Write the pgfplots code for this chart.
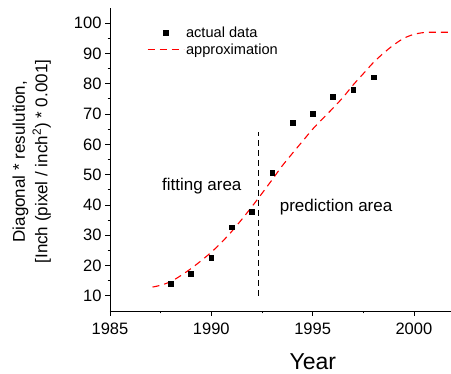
\documentclass[border=0pt]{standalone}
\usepackage{pgfplots}
\pgfplotsset{compat=1.18}
\usepackage{fontspec}
\setmainfont{Liberation Sans}
\pgfplotsset{
  legA/.style={legend image code/.code={\draw[mark repeat=2,mark phase=2,##1] plot coordinates {(0pt,0pt) (18pt,0pt) (36pt,0pt)};}},
  legB/.style={legend image code/.code={\draw[##1] (0pt,0pt) -- (36pt,0pt);}},
}
\begin{document}
\begin{tikzpicture}
\begin{axis}[
  at={(0,0)}, anchor=south west,
  scale only axis, width=341pt, height=303pt,
  xmin=1985, xmax=2001.83, ymin=5, ymax=105,
  axis lines*=left,
  axis line style={line width=0.8pt, black},
  tick align=outside,
  major tick length=5pt, minor tick length=2.5pt,
  every tick/.style={black, line width=0.8pt},
  xtick={1985,1990,1995,2000}, minor x tick num=1,
  ytick={10,20,...,100}, minor y tick num=1,
  /pgf/number format/1000 sep={},
  /pgf/number format/assume math mode=true,
  ticklabel style={font=\fontsize{16.5}{18}\selectfont},
  xticklabel style={yshift=-3pt},
  xlabel={Year},
  xlabel style={font=\fontsize{23}{26}\selectfont, at={(axis description cs:0.595,0)}, anchor=base, yshift=-59pt},
  ylabel={Diagonal * resulution,\\{}[Inch (pixel / inch\textsuperscript{2}) * 0.001]},
  ylabel style={font=\fontsize{17}{22.5}\selectfont, align=center, inner sep=0pt, at={(axis description cs:0,0.493)}, anchor=south, yshift=59pt},
  legend style={draw=none, fill=none, font=\fontsize{14.6}{17}\selectfont, at={(axis description cs:0.099,0.952)}, anchor=north west, row sep=1pt},
  legend cell align=left,
  clip=true,
]
\addlegendimage{only marks, mark=square*, mark size=2.35pt, black, legA}
\addlegendentry{actual data}
\addlegendimage{red, line width=1.1pt, dash pattern=on 7pt off 5pt, legB}
\addlegendentry{approximation}
\addplot[black, line width=1.1pt, dash pattern=on 6pt off 4pt, forget plot]
  coordinates {(1992.35,10) (1992.35,64)};
\addplot[color=red, line width=1.1pt, dash pattern=on 7pt off 5pt, smooth, no marks, forget plot]
  coordinates {
  (1987.1,12.9) (1987.5,13.5) (1988,14.7) (1988.5,16.7) (1989,19.0)
  (1989.5,21.6) (1990,24.4) (1990.5,27.6) (1991,31.2) (1991.5,35.2)
  (1992,39.4) (1992.5,43.8) (1993,48.3) (1993.5,52.9) (1994,57.0)
  (1994.5,61.0) (1995,65.0) (1995.5,68.5) (1996,71.9) (1996.5,75.5)
  (1997,79.6) (1997.5,83.3) (1998,87.0) (1998.5,90.1) (1999,92.8)
  (1999.5,95.0) (2000,96.3) (2000.5,96.9) (2001,97.0) (2002,97.0)
  };
\addplot[only marks, mark=square*, mark size=2.35pt, black, forget plot]
  coordinates {
  (1988,14.1) (1989,17.4) (1990,22.7) (1991,32.7) (1992,37.8)
  (1993,50.7) (1994,67.1) (1995,70.0) (1996,75.8) (1997,78.1) (1998,82.2)
  };
\node[font=\fontsize{17}{20}\selectfont, anchor=base] at (axis cs:1989.53,44.8) {fitting area};
\node[font=\fontsize{17}{20}\selectfont, anchor=base] at (axis cs:1996.16,38.0) {prediction area};
\end{axis}
\pgfresetboundingbox
\path[use as bounding box] (-110pt,-63pt) rectangle (341pt,311pt);
\end{tikzpicture}
\end{document}
